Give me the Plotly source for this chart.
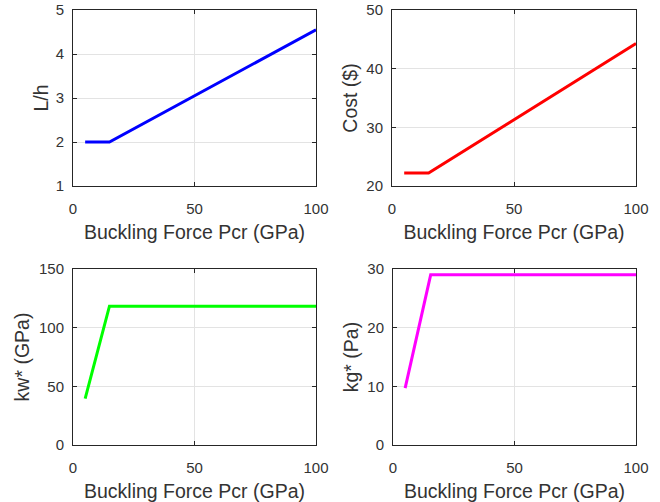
import plotly.graph_objects as go

# Data
pcr = [5, 15, 100]
lh_vals = [2.0, 2.0, 4.55]
cost_vals = [22.2, 22.2, 44.3]
pcr_kw = [5, 15, 100]
kw_vals = [39.5, 118.3, 118.3]
pcr_kg = [5, 15.5, 100]
kg_vals = [9.7, 29.0, 29.0]

x_ticks = [0, 50, 100]
lh_ticks = [1, 2, 3, 4, 5]
cost_ticks = [20, 30, 40, 50]
kw_ticks = [0, 50, 100, 150]
kg_ticks = [0, 10, 20, 30]

x_title = "Buckling Force Pcr (GPa)"

W, H = 660, 502
fig = go.Figure()

panels = [
    dict(x=pcr, y=lh_vals, color="#0000ff", yr=[1, 5], yt=lh_ticks, ytitle="L/h",
         px=(73, 316), py=(10, 186), ys=1),
    dict(x=pcr, y=cost_vals, color="#ff0000", yr=[20, 50], yt=cost_ticks, ytitle="Cost ($)",
         px=(392, 636), py=(10, 186), ys=3),
    dict(x=pcr_kw, y=kw_vals, color="#00ff00", yr=[0, 150], yt=kw_ticks, ytitle="kw* (GPa)",
         px=(73, 316), py=(269, 445), ys=4),
    dict(x=pcr_kg, y=kg_vals, color="#ff00ff", yr=[0, 30], yt=kg_ticks, ytitle="kg* (Pa)",
         px=(393, 636), py=(269, 445), ys=3),
]

TXT = "#333333"
font = dict(family="Liberation Sans, Arial, sans-serif", size=15, color=TXT)
axis_common = dict(
    showline=True, linecolor="#262626", linewidth=1, mirror="ticks",
    ticks="inside", ticklen=4, tickcolor="#262626",
    showgrid=True, gridcolor="#e3e3e3", gridwidth=1, zeroline=False,
    tickfont=dict(size=15, color=TXT), automargin=False,
)

for i, p in enumerate(panels):
    n = "" if i == 0 else str(i + 1)
    fig.add_trace(go.Scatter(x=p["x"], y=p["y"], mode="lines",
                             line=dict(color=p["color"], width=3),
                             xaxis="x" + n, yaxis="y" + n, showlegend=False))
    xd = [p["px"][0] / W, p["px"][1] / W]
    yd = [1 - p["py"][1] / H, 1 - p["py"][0] / H]
    fig.layout["xaxis" + n] = dict(
        domain=xd, range=[0, 100], tickvals=x_ticks, anchor="y" + n,
        ticklabelstandoff=9,
        title=dict(text=x_title, font=dict(size=19.5, color=TXT), standoff=9),
        **axis_common)
    fig.layout["yaxis" + n] = dict(
        domain=yd, range=p["yr"], tickvals=p["yt"], anchor="x" + n,
        ticklabelstandoff=5,
        title=dict(text=p["ytitle"], font=dict(size=19.5, color=TXT), standoff=p["ys"]),
        **axis_common)

fig.update_layout(
    width=W, height=H, margin=dict(l=0, r=0, t=0, b=0),
    paper_bgcolor="white", plot_bgcolor="white", font=font,
)

fig.write_html("out.html", config={"displayModeBar": False},
               post_script="document.body.style.margin='0';")
